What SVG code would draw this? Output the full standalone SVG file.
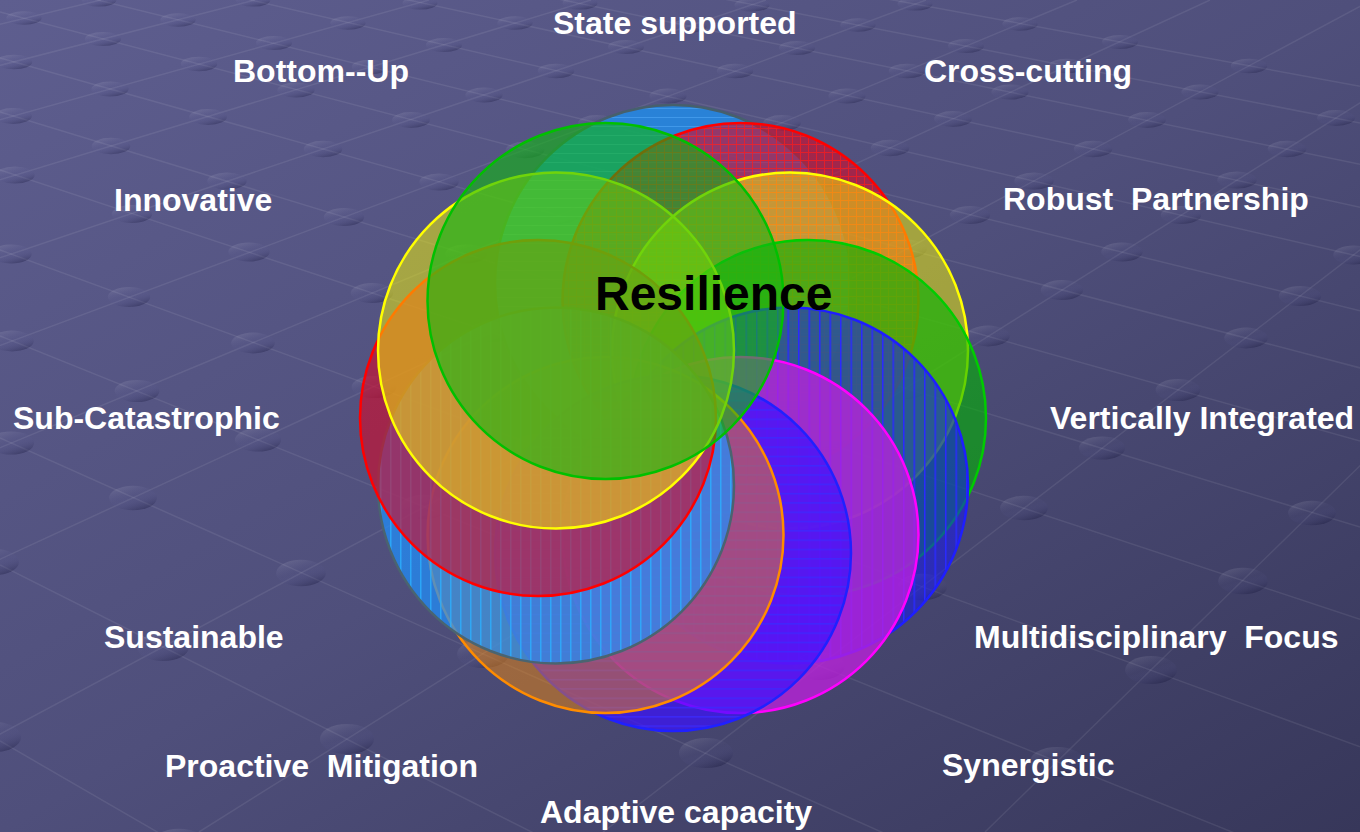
<svg xmlns="http://www.w3.org/2000/svg" width="1360" height="832" viewBox="0 0 1360 832">
<defs>
<linearGradient id="bg" x1="0" y1="0" x2="1" y2="1">
<stop offset="0" stop-color="#5e5e8f"/>
<stop offset="0.5" stop-color="#4f4f7b"/>
<stop offset="1" stop-color="#37375a"/>
</linearGradient>
<linearGradient id="dotg" x1="0.2" y1="0" x2="0.8" y2="1">
<stop offset="0" stop-color="#ffffff" stop-opacity="0.13"/>
<stop offset="0.45" stop-color="#7070b0" stop-opacity="0.04"/>
<stop offset="1" stop-color="#000020" stop-opacity="0.34"/>
</linearGradient>
<pattern id="pGrid" width="8" height="8" patternUnits="userSpaceOnUse">
<path d="M0 .5H8M.5 0V8" stroke="#ff1a1a" stroke-width="1" opacity=".7"/>
</pattern>
<pattern id="pHTop" width="9" height="9" patternUnits="userSpaceOnUse">
<path d="M0 .5H9" stroke="#5ab4ff" stroke-width="1" opacity=".45"/>
</pattern>
<pattern id="pV1" width="10.5" height="10" patternUnits="userSpaceOnUse">
<path d="M.75 0V10" stroke="#2a2aff" stroke-width="1.5"/>
</pattern>
<pattern id="pH1" width="10" height="9.3" patternUnits="userSpaceOnUse">
<path d="M0 .75H10" stroke="#3a2aff" stroke-width="1.5" opacity=".8"/>
</pattern>
<pattern id="pV2" width="10" height="10" patternUnits="userSpaceOnUse">
<path d="M.75 0V10" stroke="#2ab0ff" stroke-width="1.5" opacity=".8"/>
</pattern>
</defs>
<style>
.ln{stroke:#ffffff;stroke-opacity:.08;stroke-width:1.5;fill:none}
.dt{fill:url(#dotg)}
.o{fill:none;stroke-width:2.5}
.lbl{font-family:"Liberation Sans",Arial,sans-serif;font-weight:bold;font-size:32px;fill:#ffffff;white-space:pre}
.title{font-family:"Liberation Sans",Arial,sans-serif;font-weight:bold;font-size:48px;fill:#000000}
</style>

<g id="background">
<rect width="1360" height="832" fill="url(#bg)"/>
<g id="lattice-lines">
<path class="ln" d="M0 -165L1360 86.3M0 -142L1360 122.9M0 -116L1360 164.3M0 -89L1360 207.2M0 -58L1360 256.6M0 -24L1360 310.7M0 12L1360 367.9M0 58L1360 441.1M0 112L1360 527.1M0 170L1360 619.3M0 250L1360 746.7M0 336L1360 883.5M0 438L1360 1045.9M0 565L1360 1248M0 741L1360 1528"/>
<path class="ln" d="M101 0L-3377 832M255 0L-2990 832M429 0L-2553 832M591 0L-2145 832M766 0L-1706 832M926 0L-1304 832M1077 0L-924 832M1210 0L-590 832M1372 0L-183 832M1524 0L199 832M1685 0L603 832M1837 0L985 832M1995 0L1382 832"/>
</g>
<g id="lattice-dots" class="dt">
<ellipse cx="99" cy="0" rx="17.4" ry="6.6"/><ellipse cx="24" cy="18" rx="17.7" ry="6.8"/>
<ellipse cx="253" cy="0" rx="17.4" ry="6.6"/><ellipse cx="178" cy="20" rx="17.7" ry="6.8"/><ellipse cx="103" cy="39" rx="18" ry="7"/><ellipse cx="14" cy="62" rx="18.2" ry="7.3"/>
<ellipse cx="420" cy="3" rx="17.5" ry="6.6"/><ellipse cx="348" cy="23" rx="17.7" ry="6.8"/><ellipse cx="274" cy="43" rx="18" ry="7"/><ellipse cx="199" cy="64" rx="18.2" ry="7.3"/><ellipse cx="110" cy="89" rx="18.6" ry="7.6"/><ellipse cx="13" cy="116" rx="18.9" ry="7.9"/>
<ellipse cx="580" cy="3" rx="17.5" ry="6.6"/><ellipse cx="515" cy="23" rx="17.7" ry="6.8"/><ellipse cx="444" cy="45" rx="18" ry="7"/><ellipse cx="370" cy="67" rx="18.2" ry="7.3"/><ellipse cx="296" cy="90" rx="18.6" ry="7.6"/><ellipse cx="208" cy="117" rx="18.9" ry="7.9"/><ellipse cx="111" cy="146" rx="19.3" ry="8.3"/><ellipse cx="15" cy="175" rx="19.7" ry="8.6"/>
<ellipse cx="752" cy="5" rx="17.5" ry="6.6"/><ellipse cx="689" cy="26" rx="17.7" ry="6.8"/><ellipse cx="626" cy="47" rx="18" ry="7"/><ellipse cx="556" cy="71" rx="18.2" ry="7.3"/><ellipse cx="484" cy="95" rx="18.6" ry="7.6"/><ellipse cx="411" cy="120" rx="18.9" ry="7.9"/><ellipse cx="323" cy="149" rx="19.3" ry="8.3"/><ellipse cx="227" cy="181" rx="19.7" ry="8.6"/><ellipse cx="132" cy="214" rx="20.2" ry="9"/><ellipse cx="11" cy="254" rx="20.7" ry="9.4"/>
<ellipse cx="915" cy="4" rx="17.5" ry="6.6"/><ellipse cx="858" cy="25" rx="17.7" ry="6.8"/><ellipse cx="797" cy="48" rx="18" ry="7"/><ellipse cx="735" cy="71" rx="18.2" ry="7.3"/><ellipse cx="668" cy="96" rx="18.6" ry="7.6"/><ellipse cx="597" cy="123" rx="18.9" ry="7.9"/><ellipse cx="525" cy="150" rx="19.3" ry="8.3"/><ellipse cx="439" cy="182" rx="19.7" ry="8.6"/><ellipse cx="344" cy="217" rx="20.2" ry="9"/><ellipse cx="249" cy="252" rx="20.7" ry="9.4"/><ellipse cx="129" cy="297" rx="21.2" ry="9.9"/><ellipse cx="12" cy="341" rx="21.8" ry="10.4"/>
<ellipse cx="1020" cy="24" rx="17.7" ry="6.8"/><ellipse cx="966" cy="46" rx="18" ry="7"/><ellipse cx="907" cy="71" rx="18.2" ry="7.3"/><ellipse cx="847" cy="96" rx="18.6" ry="7.6"/><ellipse cx="782" cy="123" rx="18.9" ry="7.9"/><ellipse cx="713" cy="151" rx="19.3" ry="8.3"/><ellipse cx="643" cy="180" rx="19.7" ry="8.6"/><ellipse cx="559" cy="215" rx="20.2" ry="9"/><ellipse cx="466" cy="254" rx="20.7" ry="9.4"/><ellipse cx="372" cy="293" rx="21.2" ry="9.9"/><ellipse cx="253" cy="343" rx="21.8" ry="10.4"/><ellipse cx="137" cy="391" rx="22.4" ry="11"/><ellipse cx="11" cy="443" rx="23.1" ry="11.6"/>
<ellipse cx="1120" cy="42" rx="18" ry="7"/><ellipse cx="1067" cy="66" rx="18.2" ry="7.3"/><ellipse cx="1010" cy="92" rx="18.6" ry="7.6"/><ellipse cx="953" cy="119" rx="18.9" ry="7.9"/><ellipse cx="890" cy="148" rx="19.3" ry="8.3"/><ellipse cx="824" cy="179" rx="19.7" ry="8.6"/><ellipse cx="756" cy="210" rx="20.2" ry="9"/><ellipse cx="674" cy="248" rx="20.7" ry="9.4"/><ellipse cx="583" cy="290" rx="21.2" ry="9.9"/><ellipse cx="491" cy="332" rx="21.8" ry="10.4"/><ellipse cx="374" cy="387" rx="22.4" ry="11"/><ellipse cx="258" cy="440" rx="23.1" ry="11.6"/><ellipse cx="133" cy="498" rx="23.9" ry="12.3"/><ellipse cx="-6" cy="562" rx="24.9" ry="13.2"/>
<ellipse cx="1249" cy="66" rx="18.2" ry="7.3"/><ellipse cx="1200" cy="92" rx="18.6" ry="7.6"/><ellipse cx="1147" cy="120" rx="18.9" ry="7.9"/><ellipse cx="1093" cy="149" rx="19.3" ry="8.3"/><ellipse cx="1034" cy="181" rx="19.7" ry="8.6"/><ellipse cx="970" cy="215" rx="20.2" ry="9"/><ellipse cx="906" cy="249" rx="20.7" ry="9.4"/><ellipse cx="828" cy="291" rx="21.2" ry="9.9"/><ellipse cx="740" cy="338" rx="21.8" ry="10.4"/><ellipse cx="652" cy="385" rx="22.4" ry="11"/><ellipse cx="538" cy="446" rx="23.1" ry="11.6"/><ellipse cx="424" cy="507" rx="23.9" ry="12.3"/><ellipse cx="301" cy="573" rx="24.9" ry="13.2"/><ellipse cx="163" cy="647" rx="25.9" ry="14.1"/><ellipse cx="-6" cy="737" rx="27.1" ry="15.1"/>
<ellipse cx="1336" cy="118" rx="18.9" ry="7.9"/><ellipse cx="1287" cy="149" rx="19.3" ry="8.3"/><ellipse cx="1237" cy="180" rx="19.7" ry="8.6"/><ellipse cx="1181" cy="215" rx="20.2" ry="9"/><ellipse cx="1122" cy="252" rx="20.7" ry="9.4"/><ellipse cx="1062" cy="290" rx="21.2" ry="9.9"/><ellipse cx="988" cy="336" rx="21.8" ry="10.4"/><ellipse cx="906" cy="388" rx="22.4" ry="11"/><ellipse cx="821" cy="441" rx="23.1" ry="11.6"/><ellipse cx="712" cy="510" rx="23.9" ry="12.3"/><ellipse cx="603" cy="579" rx="24.9" ry="13.2"/><ellipse cx="483" cy="654" rx="25.9" ry="14.1"/><ellipse cx="347" cy="739" rx="27.1" ry="15.1"/><ellipse cx="179" cy="845" rx="28.4" ry="16.3"/>
<ellipse cx="1354" cy="255" rx="20.7" ry="9.4"/><ellipse cx="1300" cy="296" rx="21.2" ry="9.9"/><ellipse cx="1246" cy="338" rx="21.8" ry="10.4"/><ellipse cx="1178" cy="390" rx="22.4" ry="11"/><ellipse cx="1102" cy="448" rx="23.1" ry="11.6"/><ellipse cx="1024" cy="508" rx="23.9" ry="12.3"/><ellipse cx="922" cy="587" rx="24.9" ry="13.2"/><ellipse cx="819" cy="666" rx="25.9" ry="14.1"/><ellipse cx="706" cy="753" rx="27.1" ry="15.1"/>
<ellipse cx="1312" cy="513" rx="23.9" ry="12.3"/><ellipse cx="1243" cy="581" rx="24.9" ry="13.2"/><ellipse cx="1151" cy="670" rx="25.9" ry="14.1"/><ellipse cx="1057" cy="762" rx="27.1" ry="15.1"/>
</g>
</g>

<g id="connectors"></g>

<g id="node-blue-top">
<circle cx="673" cy="283" r="178" fill="#1e8ff0" fill-opacity=".78"/>
<circle cx="673" cy="283" r="178" fill="url(#pHTop)"/>
<circle cx="673" cy="283" r="178" class="o" stroke="#46606c"/>
</g>
<g id="node-red-top">
<circle cx="740.5" cy="301" r="178" fill="#cc1030" fill-opacity=".65"/>
<circle cx="740.5" cy="301" r="178" fill="url(#pGrid)"/>
<circle cx="740.5" cy="301" r="178" class="o" stroke="#ff0000"/>
</g>
<g id="node-yellow-right">
<circle cx="790" cy="350.5" r="178" fill="#ffff00" fill-opacity=".48"/>
<circle cx="790" cy="350.5" r="178" class="o" stroke="#ffff00"/>
</g>
<g id="node-green-right">
<circle cx="808" cy="418" r="178" fill="#00b400" fill-opacity=".6"/>
<circle cx="808" cy="418" r="178" class="o" stroke="#00cc00"/>
</g>
<g id="node-blue-right">
<circle cx="790" cy="485.5" r="178" fill="#1818f0" fill-opacity=".55"/>
<circle cx="790" cy="485.5" r="178" fill="url(#pV1)"/>
<circle cx="790" cy="485.5" r="178" class="o" stroke="#1e1eff"/>
</g>
<g id="node-magenta">
<circle cx="740.5" cy="535" r="178" fill="#c020e0" fill-opacity=".75"/>
<circle cx="740.5" cy="535" r="178" class="o" stroke="#ff00ff"/>
</g>
<g id="node-blue-bottom">
<circle cx="673" cy="553" r="178" fill="#3a10ff" fill-opacity=".7"/>
<circle cx="673" cy="553" r="178" fill="url(#pH1)"/>
<circle cx="673" cy="553" r="178" class="o" stroke="#2020ff"/>
</g>
<g id="node-orange">
<circle cx="605.5" cy="535" r="178" fill="#ff8c00" fill-opacity=".45"/>
<circle cx="605.5" cy="535" r="178" class="o" stroke="#ff8c00"/>
</g>
<g id="node-blue-left">
<circle cx="556" cy="485.5" r="178" fill="#1e90ff" fill-opacity=".7"/>
<circle cx="556" cy="485.5" r="178" fill="url(#pV2)"/>
<circle cx="556" cy="485.5" r="178" class="o" stroke="#4a6470"/>
</g>
<g id="node-red-left">
<circle cx="538" cy="418" r="178" fill="#cc1030" fill-opacity=".65"/>
<circle cx="538" cy="418" r="178" class="o" stroke="#ff0000"/>
</g>
<g id="node-yellow-left">
<circle cx="556" cy="350.5" r="178" fill="#ffff00" fill-opacity=".48"/>
<circle cx="556" cy="350.5" r="178" class="o" stroke="#ffff00"/>
</g>
<g id="node-green-left">
<circle cx="605.5" cy="301" r="178" fill="#10b810" fill-opacity=".6"/>
<circle cx="605.5" cy="301" r="178" class="o" stroke="#00c000"/>
</g>

<g id="node-resilience">
<text class="title" x="595" y="310">Resilience</text>
</g>

<g id="labels">
<g id="label-state-supported"><text class="lbl" x="553" y="34">State supported</text></g>
<g id="label-bottom-up"><text class="lbl" x="233" y="82">Bottom--Up</text></g>
<g id="label-cross-cutting"><text class="lbl" x="924" y="82">Cross-cutting</text></g>
<g id="label-innovative"><text class="lbl" x="114" y="211">Innovative</text></g>
<g id="label-robust-partnership"><text class="lbl" x="1003" y="210" xml:space="preserve">Robust  Partnership</text></g>
<g id="label-sub-catastrophic"><text class="lbl" x="13" y="429">Sub-Catastrophic</text></g>
<g id="label-vertically-integrated"><text class="lbl" x="1050" y="429">Vertically Integrated</text></g>
<g id="label-sustainable"><text class="lbl" x="104" y="648">Sustainable</text></g>
<g id="label-multidisciplinary-focus"><text class="lbl" x="974" y="648" xml:space="preserve">Multidisciplinary  Focus</text></g>
<g id="label-proactive-mitigation"><text class="lbl" x="165" y="777" xml:space="preserve">Proactive  Mitigation</text></g>
<g id="label-synergistic"><text class="lbl" x="942" y="776">Synergistic</text></g>
<g id="label-adaptive-capacity"><text class="lbl" x="540" y="823">Adaptive capacity</text></g>
</g>
</svg>
